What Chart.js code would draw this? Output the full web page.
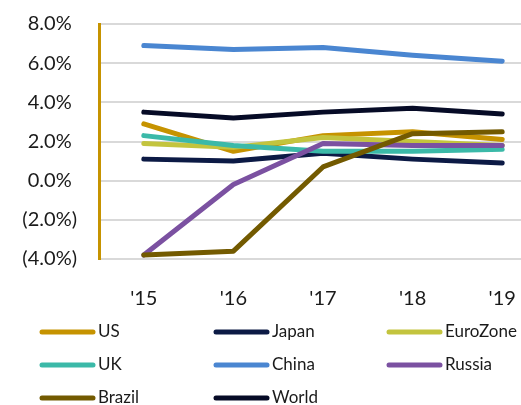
<!DOCTYPE html>
<html>
<head>
<meta charset="utf-8">
<script src="https://cdn.jsdelivr.net/npm/chart.js@4"></script>
<style>
	html, body { margin: 0; padding: 0; background: #fff; overflow: hidden; }
	#wrap { width: 548px; height: 405px; }
</style>
</head>
<body>
<div id="wrap"><canvas id="growthChart"></canvas></div>
<script>
const years = ["'15", "'16", "'17", "'18", "'19"];

const seriesNames = ['US', 'Japan', 'EuroZone', 'UK', 'China', 'Russia', 'Brazil', 'World'];
const seriesColors = ['#C69300', '#0C1A45', '#C3C43E', '#3BB9A8', '#4A86D1', '#7B51A1', '#735A00', '#060B26'];

const us       = [2.9, 1.5, 2.3, 2.5, 2.1];
const japan    = [1.1, 1.0, 1.4, 1.1, 0.9];
const euroZone = [1.9, 1.7, 2.2, 2.0, 1.8];
const uk       = [2.3, 1.8, 1.5, 1.5, 1.6];
const china    = [6.9, 6.7, 6.8, 6.4, 6.1];
const russia   = [-3.8, -0.2, 1.9, 1.8, 1.8];
const brazil   = [-3.8, -3.6, 0.7, 2.4, 2.5];
const world    = [3.5, 3.2, 3.5, 3.7, 3.4];

const seriesValues = [us, japan, euroZone, uk, china, russia, brazil, world];

function formatPct(v) {
	const s = Math.abs(v).toFixed(1) + '%';
	return v < 0 ? '(' + s + ')' : s;
}

// legend laid out in a 3-column grid under the axis
const gridLegend = {
	id: 'gridLegend',
	afterDraw(chart) {
		const ctx = chart.ctx;
		const cols = [40, 214, 387];
		const rows = [332, 365, 398];
		ctx.save();
		ctx.font = '17px Lato';
		ctx.textBaseline = 'middle';
		ctx.textAlign = 'left';
		chart.data.datasets.forEach((ds, i) => {
			const x = cols[i % 3];
			const y = rows[Math.floor(i / 3)];
			ctx.strokeStyle = ds.borderColor;
			ctx.lineWidth = 5;
			ctx.lineCap = 'round';
			ctx.beginPath();
			ctx.moveTo(x + 2, y);
			ctx.lineTo(x + 53, y);
			ctx.stroke();
			ctx.fillStyle = '#1a1a1a';
			ctx.fillText(ds.label, x + 58, y);
		});
		ctx.restore();
	}
};

const datasets = seriesNames.map((name, i) => ({
	label: name,
	data: seriesValues[i],
	borderColor: seriesColors[i],
	backgroundColor: seriesColors[i],
	borderWidth: 5,
	borderCapStyle: 'round',
	borderJoinStyle: 'round',
	pointRadius: 0,
	tension: 0,
	fill: false,
	order: seriesNames.length - i
}));

new Chart(document.getElementById('growthChart'), {
	type: 'line',
	data: { labels: years, datasets: datasets },
	options: {
		responsive: true,
		maintainAspectRatio: false,
		animation: false,
		layout: { padding: { top: 24, right: 1, bottom: 96, left: 0 } },
		plugins: {
			legend: { display: false },
			tooltip: { enabled: false }
		},
		scales: {
			x: {
				offset: true,
				grid: { display: false },
				border: { display: false },
				ticks: {
					color: '#1a1a1a',
					font: { family: 'Lato', size: 20 },
					padding: 20,
					maxRotation: 0
				},
				afterFit(scale) { scale.height = 50; }
			},
			y: {
				min: -4,
				max: 8,
				grid: { color: '#D9D9D9', lineWidth: 2, drawTicks: false },
				border: { display: true, color: '#C69300', width: 3 },
				ticks: {
					stepSize: 2,
					color: '#1a1a1a',
					font: { family: 'Lato', size: 20 },
					padding: 22,
					crossAlign: 'center',
					callback: v => formatPct(v)
				},
				afterFit(scale) {
					scale.width = 99;
					scale.paddingTop = 0;
					scale.paddingBottom = 0;
				}
			}
		}
	},
	plugins: [gridLegend]
});
</script>
</body>
</html>
